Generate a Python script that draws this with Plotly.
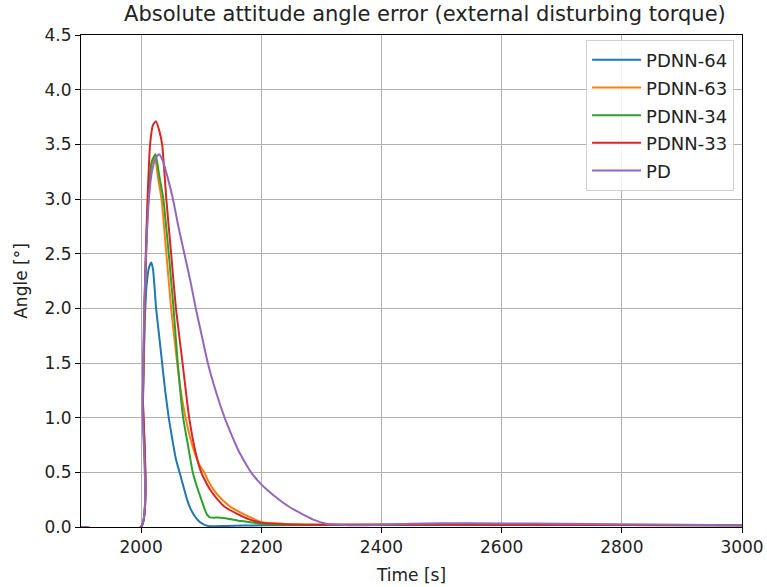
import plotly.graph_objects as go

# ---------------- data ----------------
t_pdnn64 = [1900, 2000, 2003, 2006, 2009, 2013, 2017, 2020, 2025, 2030, 2035, 2040, 2046, 2052,
            2058, 2064, 2070, 2076, 2082, 2088, 2095, 2102, 2108, 2115, 2140, 2200, 2400, 2600,
            2800, 3000]
y_pdnn64 = [0, 0, 1.1, 1.85, 2.2, 2.37, 2.42, 2.35, 2.0, 1.75, 1.5, 1.25, 1.0, 0.8,
            0.62, 0.5, 0.38, 0.26, 0.17, 0.11, 0.06, 0.03, 0.015, 0.008, 0.01, 0.015, 0.02, 0.02,
            0.018, 0.015]

t_pdnn63 = [1900, 2000, 2003, 2006, 2009, 2013, 2018, 2023, 2028, 2034, 2042, 2050, 2060, 2066,
            2074, 2085, 2096, 2106, 2111, 2122, 2135, 2150, 2170, 2185, 2200, 2240, 2300, 2500,
            2800, 3000]
y_pdnn63 = [0, 0, 1.15, 2.0, 2.6, 3.08, 3.33, 3.38, 3.2, 3.0, 2.5, 2.0, 1.5, 1.25,
            1.0, 0.75, 0.58, 0.49, 0.43, 0.33, 0.25, 0.18, 0.12, 0.08, 0.045, 0.028, 0.022, 0.022,
            0.018, 0.015]

t_pdnn34 = [1900, 2000, 2003, 2006, 2009, 2013, 2018, 2024, 2030, 2037, 2046, 2054, 2061, 2070,
            2078, 2086, 2094, 2101, 2106, 2110, 2115, 2122, 2128, 2140, 2160, 2180, 2200, 2240,
            2300, 2500, 2800, 3000]
y_pdnn34 = [0, 0, 1.2, 2.05, 2.65, 3.1, 3.35, 3.41, 3.22, 3.0, 2.5, 2.0, 1.5, 1.0,
            0.75, 0.5, 0.35, 0.24, 0.16, 0.11, 0.088, 0.085, 0.088, 0.08, 0.06, 0.045, 0.03, 0.02,
            0.018, 0.02, 0.018, 0.015]

t_pdnn33 = [1900, 2000, 2003, 2006, 2008, 2010.5, 2015, 2020, 2025, 2030, 2035, 2042, 2050, 2058,
            2069, 2080, 2090, 2100, 2106, 2115, 2126, 2140, 2160, 2180, 2200, 2240, 2300, 2500,
            2800, 3000]
y_pdnn33 = [0, 0, 1.2, 2.1, 2.53, 2.97, 3.5, 3.68, 3.71, 3.63, 3.5, 3.0, 2.5, 2.0,
            1.5, 1.0, 0.7, 0.5, 0.43, 0.34, 0.26, 0.18, 0.12, 0.07, 0.04, 0.025, 0.02, 0.02,
            0.018, 0.015]

t_pd = [1900, 2000, 2002.5, 2005, 2009, 2013, 2018, 2024, 2030, 2036, 2044, 2053, 2062, 2072,
        2082, 2091, 2101, 2111, 2125, 2139, 2150, 2162, 2172, 2183, 2200, 2212, 2225, 2245,
        2269, 2290, 2308, 2330, 2360, 2400, 2450, 2500, 2600, 2700, 2800, 2900, 3000]
y_pd = [0, 0, 1.07, 1.98, 2.6, 3.0, 3.25, 3.37, 3.41, 3.35, 3.2, 3.0, 2.75, 2.5,
        2.25, 2.0, 1.75, 1.5, 1.23, 1.0, 0.85, 0.7, 0.6, 0.5, 0.39, 0.33, 0.27, 0.19,
        0.116, 0.06, 0.03, 0.02, 0.015, 0.02, 0.03, 0.035, 0.033, 0.03, 0.025, 0.02, 0.015]

series_names = ["PDNN-64", "PDNN-63", "PDNN-34", "PDNN-33", "PD"]
series_colors = ["#1f77b4", "#ff7f0e", "#2ca02c", "#d62728", "#9467bd"]

x_ticks = [2000, 2200, 2400, 2600, 2800, 3000]
y_ticks = [0.0, 0.5, 1.0, 1.5, 2.0, 2.5, 3.0, 3.5, 4.0, 4.5]

title_text = "Absolute attitude angle error (external disturbing torque)"
x_label = "Time [s]"
y_label = "Angle [°]"

# ---------------- figure ----------------
series = [(t_pdnn64, y_pdnn64), (t_pdnn63, y_pdnn63), (t_pdnn34, y_pdnn34),
          (t_pdnn33, y_pdnn33), (t_pd, y_pd)]

FONT = "DejaVu Sans"
TXT = "#222"
fig = go.Figure()
for (tx, ty), name, col in zip(series, series_names, series_colors):
    fig.add_trace(go.Scatter(
        x=tx, y=ty, mode="lines",
        name=f"<span style='font-size:18px'>{name}</span>",
        line=dict(color=col, width=2, shape="spline", smoothing=0.5)))

axis_common = dict(showline=True, linecolor="black", linewidth=1, mirror=True,
                   ticks="outside", ticklen=5, tickcolor="black",
                   showgrid=True, gridcolor="#b0b0b0", gridwidth=1,
                   zeroline=False, automargin=False,
                   tickfont=dict(family=FONT, size=17, color=TXT),
                   title_font=dict(family=FONT, size=17, color=TXT))

fig.update_layout(
    width=767, height=587,
    margin=dict(l=81, r=25, t=35, b=60),
    paper_bgcolor="white", plot_bgcolor="white",
    title=dict(text=title_text, x=0.554, xanchor="center", y=0.99, yanchor="top",
               font=dict(family=FONT, size=21, color=TXT)),
    xaxis=dict(range=[1900, 3000], tickvals=x_ticks, title=dict(text=x_label, standoff=12),
               **axis_common),
    yaxis=dict(range=[0, 4.5], tickvals=y_ticks, tickformat=".1f",
               title=dict(text=y_label, standoff=12), **axis_common),
    legend=dict(x=0.988, xanchor="right", y=0.99, yanchor="top",
                bgcolor="rgba(255,255,255,0.85)", bordercolor="#d0d0d0", borderwidth=1,
                font=dict(family=FONT, size=19, color=TXT), tracegroupgap=0,
                itemwidth=49),
    showlegend=True,
)

fig.write_html("out.html", config={"displayModeBar": False},
               post_script="document.body.style.margin='0';document.body.style.padding='0';")
